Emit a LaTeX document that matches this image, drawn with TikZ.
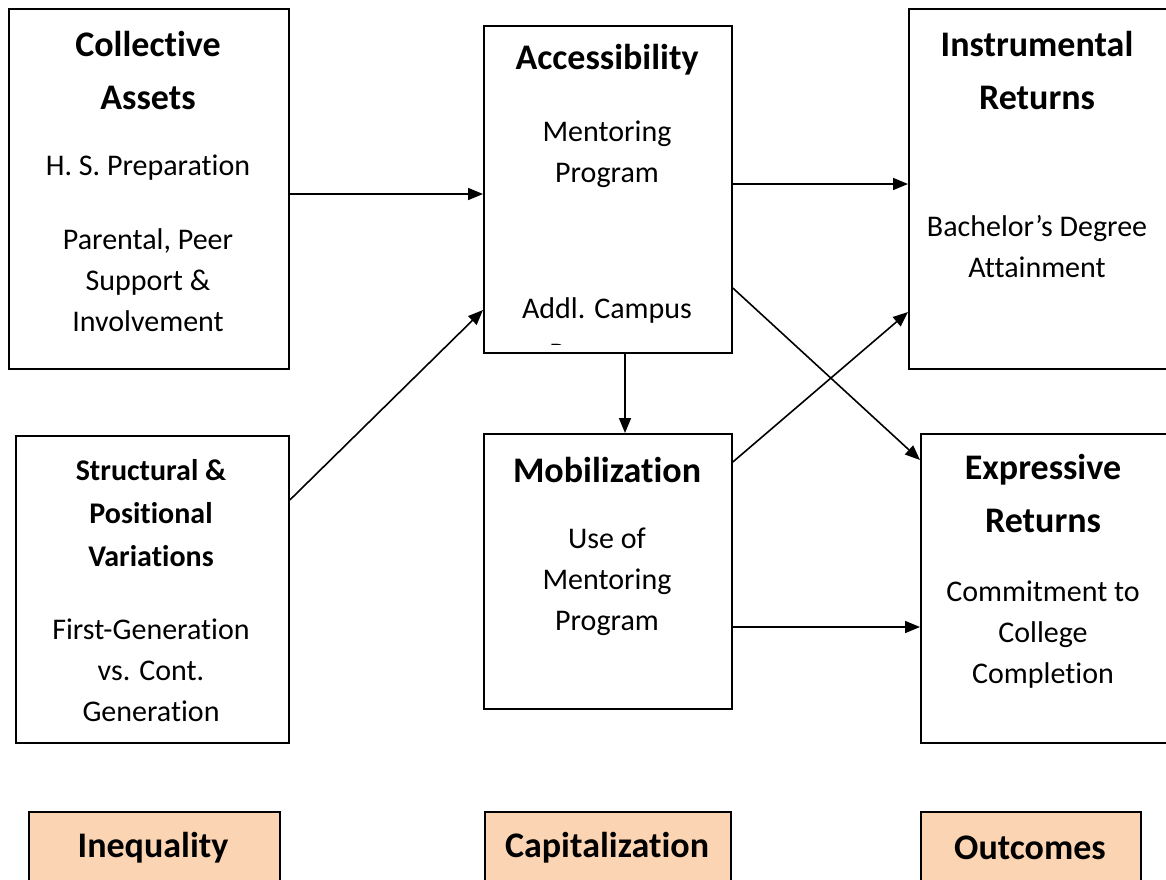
\documentclass[tikz,border=0pt]{standalone}
\usepackage{fontspec}
\setmainfont{Carlito}[Ligatures={NoCommon}]
\usetikzlibrary{arrows.meta}
\definecolor{peach}{RGB}{251,212,180}
\begin{document}
\begin{tikzpicture}[x=1pt,y=-1pt,
  box/.style={draw,line width=1.8pt,inner sep=0pt,anchor=north west},
  labbox/.style={box,fill=peach},
  head/.style={font=\fontsize{36}{53}\selectfont\bfseries,align=center},
  subhead/.style={font=\fontsize{30}{43}\selectfont\bfseries,align=center},
  body/.style={font=\fontsize{30}{41}\selectfont,align=center},
  link/.style={line width=1.6pt,-{Triangle[length=15pt,width=12pt]}}]
\useasboundingbox (0,0) rectangle (1166,879);
\clip (0,0) rectangle (1166,879);

% boxes
\node[box,minimum width=280,minimum height=360] (ca) at (8,8) {};
\node[box,minimum width=248,minimum height=327] (acc) at (483,25) {};
\node[box,minimum width=260,minimum height=360] (ir) at (908,8) {};
\node[box,minimum width=273,minimum height=307] (sp) at (15,435) {};
\node[box,minimum width=248,minimum height=275] (mob) at (483,433) {};
\node[box,minimum width=248,minimum height=309] (er) at (920,433) {};
\node[labbox,minimum width=251,minimum height=100] (ineq) at (28,811) {};
\node[labbox,minimum width=246,minimum height=100] (cap) at (484,811) {};
\node[labbox,minimum width=220,minimum height=100] (out) at (920,811) {};

% texts: collective assets
\node[head] (caH) at (148,70) {Collective\\Assets};
\node[body] (caA) at (148,168) {H. S. Preparation};
\node[body] (caB) at (148,280) {Parental, Peer\\Support \&\\Involvement};

% accessibility
\node[head] (accH) at (607,60) {Accessibility};
\node[body] (accA) at (607,154) {Mentoring\\Program};
\node[body] (accB) at (607,310) {Addl. Campus};
\begin{scope}
  \clip (485,27) rectangle (729,344);
  \node[body] (accC) at (607,356) {Programs};
\end{scope}

% instrumental returns
\node[head] (irH) at (1037,70) {Instrumental\\Returns};
\node[body] (irA) at (1037,247) {Bachelor’s Degree\\Attainment};

% structural and positional variations
\node[subhead] (spH) at (151,513) {Structural \&\\Positional\\Variations};
\node[body] (spA) at (151,670) {First-Generation\\vs. Cont.\\Generation};

% mobilization
\node[head] (mobH) at (607,470) {Mobilization};
\node[body] (mobA) at (607,582) {Use of\\Mentoring\\Program};

% expressive returns
\node[head] (erH) at (1043,493) {Expressive\\Returns};
\node[body] (erA) at (1043,635) {Commitment to\\College\\Completion};

% bottom labels
\node[head] (ineqT) at (153,848) {Inequality};
\node[head] (capT) at (607,848) {Capitalization};
\node[head] (outT) at (1030,848) {Outcomes};

% connectors
\draw[link] (ca.east |- 0,194) -- (acc.west |- 0,194);
\draw[link] (sp.east |- 0,500) -- (acc.west |- 0,310);
\draw[link] (acc.east |- 0,184) -- (ir.west |- 0,184);
\draw[link] (acc.south -| 625,0) -- (mob.north -| 625,0);
\draw[link] (mob.east |- 0,462) -- (ir.west |- 0,312);
\draw[link] (acc.east |- 0,288) -- (er.west |- 0,460);
\draw[link] (mob.east |- 0,627) -- (er.west |- 0,627);
\end{tikzpicture}
\end{document}
